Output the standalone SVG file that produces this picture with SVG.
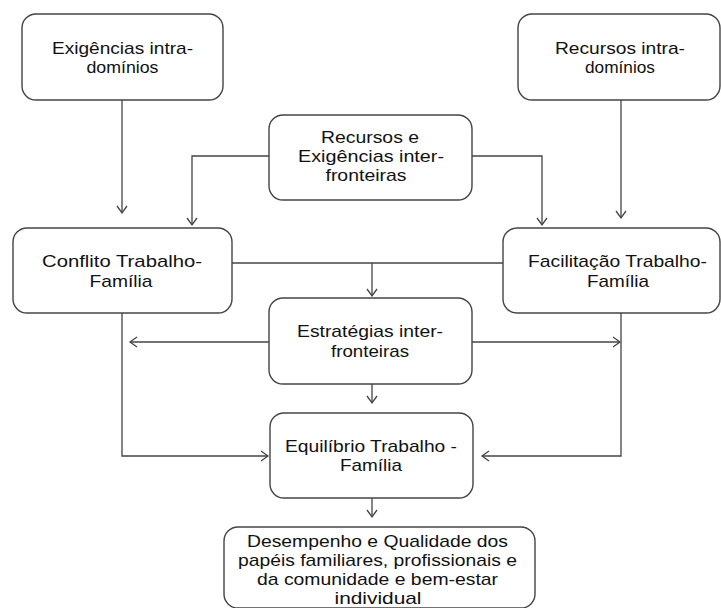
<svg xmlns="http://www.w3.org/2000/svg" width="721" height="608" viewBox="0 0 721 608">
<defs>
<style>
.box{fill:#fff;stroke:#444;stroke-width:1.4}
.t{font-family:"Liberation Sans",Arial,sans-serif;font-size:17px;fill:#111;text-anchor:middle}
.c{fill:none;stroke:#444;stroke-width:1.3}
</style>
<marker id="ah" markerWidth="12" markerHeight="12" refX="10" refY="6" orient="auto" markerUnits="userSpaceOnUse">
<path d="M3,1 L10,6 L3,11" fill="none" stroke="#444" stroke-width="1.3"/>
</marker>
</defs>
<rect width="721" height="608" fill="#fff"/>
<g id="connectors">
<path class="c" d="M122,100 V213" marker-end="url(#ah)"/>
<path class="c" d="M269,156 H192 V225" marker-end="url(#ah)"/>
<path class="c" d="M472,156 H542 V225" marker-end="url(#ah)"/>
<path class="c" d="M621,100 V218" marker-end="url(#ah)"/>
<path class="c" d="M232,263 H503"/>
<path class="c" d="M372,263 V296" marker-end="url(#ah)"/>
<path class="c" d="M269,342 H130" marker-end="url(#ah)"/>
<path class="c" d="M472,342 H620" marker-end="url(#ah)"/>
<path class="c" d="M122,313 V456 H268" marker-end="url(#ah)"/>
<path class="c" d="M621,313 V456 H482" marker-end="url(#ah)"/>
<path class="c" d="M372,384 V403" marker-end="url(#ah)"/>
<path class="c" d="M372,498 V517" marker-end="url(#ah)"/>
</g>
<g id="exigencias-intra">
<rect class="box" x="22" y="14" width="201" height="86" rx="14"/>
<text class="t" x="122.5" y="54" textLength="141" lengthAdjust="spacingAndGlyphs">Exigências intra-</text>
<text class="t" x="122.5" y="73" textLength="72" lengthAdjust="spacingAndGlyphs">domínios</text>
</g>
<g id="recursos-intra">
<rect class="box" x="518" y="14" width="202" height="86" rx="14"/>
<text class="t" x="620" y="54" textLength="130" lengthAdjust="spacingAndGlyphs">Recursos intra-</text>
<text class="t" x="620" y="73" textLength="70" lengthAdjust="spacingAndGlyphs">domínios</text>
</g>
<g id="recursos-exigencias-inter">
<rect class="box" x="269" y="115" width="203" height="85" rx="14"/>
<text class="t" x="370" y="143" textLength="98" lengthAdjust="spacingAndGlyphs">Recursos e</text>
<text class="t" x="371" y="162" textLength="146" lengthAdjust="spacingAndGlyphs">Exigências inter-</text>
<text class="t" x="366" y="181" textLength="81" lengthAdjust="spacingAndGlyphs">fronteiras</text>
</g>
<g id="conflito">
<rect class="box" x="13" y="228" width="219" height="85" rx="14"/>
<text class="t" x="122" y="267" textLength="160" lengthAdjust="spacingAndGlyphs">Conflito  Trabalho-</text>
<text class="t" x="121" y="287" textLength="63" lengthAdjust="spacingAndGlyphs">Família</text>
</g>
<g id="facilitacao">
<rect class="box" x="503" y="228" width="217" height="85" rx="14"/>
<text class="t" x="617.5" y="267" textLength="179" lengthAdjust="spacingAndGlyphs">Facilitação Trabalho-</text>
<text class="t" x="618" y="287" textLength="62" lengthAdjust="spacingAndGlyphs">Família</text>
</g>
<g id="estrategias">
<rect class="box" x="269" y="298" width="203" height="86" rx="14"/>
<text class="t" x="370" y="337" textLength="146" lengthAdjust="spacingAndGlyphs">Estratégias inter-</text>
<text class="t" x="370" y="357" textLength="78" lengthAdjust="spacingAndGlyphs">fronteiras</text>
</g>
<g id="equilibrio">
<rect class="box" x="270" y="413" width="203" height="85" rx="14"/>
<text class="t" x="371" y="452" textLength="172" lengthAdjust="spacingAndGlyphs">Equilíbrio Trabalho -</text>
<text class="t" x="371" y="471" textLength="62" lengthAdjust="spacingAndGlyphs">Família</text>
</g>
<g id="desempenho">
<rect class="box" x="224" y="527" width="311" height="81" rx="14"/>
<text class="t" x="377.5" y="547" textLength="261" lengthAdjust="spacingAndGlyphs">Desempenho e Qualidade dos</text>
<text class="t" x="377.5" y="566" textLength="279" lengthAdjust="spacingAndGlyphs">papéis familiares, profissionais e</text>
<text class="t" x="377.5" y="585" textLength="241" lengthAdjust="spacingAndGlyphs">da comunidade e bem-estar</text>
<text class="t" x="378" y="604" textLength="87" lengthAdjust="spacingAndGlyphs">individual</text>
</g>
</svg>
